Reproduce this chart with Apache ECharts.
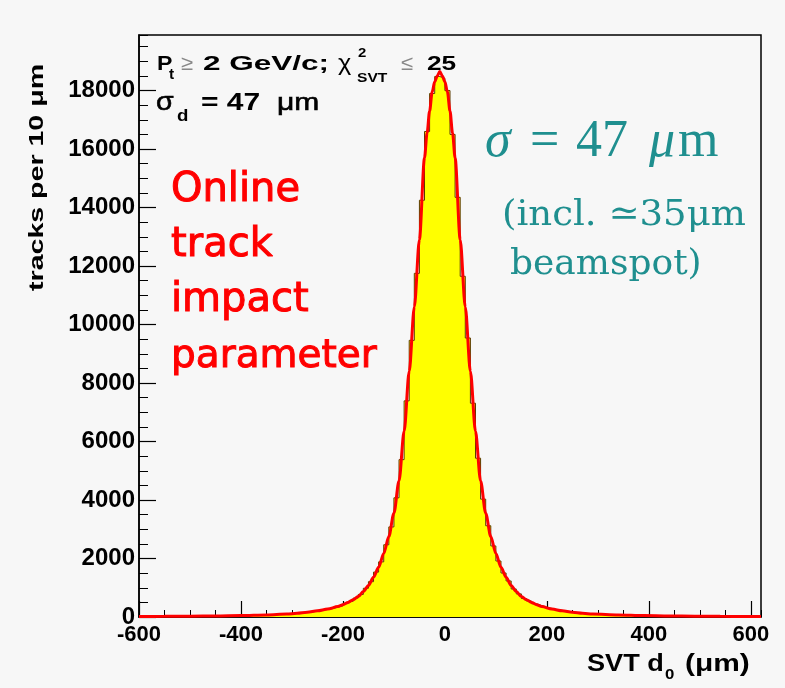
<!DOCTYPE html>
<html>
<head>
<meta charset="utf-8">
<script src="https://cdn.jsdelivr.net/npm/echarts@6/dist/echarts.min.js"></script>
<style>
html,body{margin:0;padding:0;background:#f7f7f7;}
#chart{width:785px;height:688px;}
</style>
</head>
<body>
<div id="chart"></div>
<script>
// ---- data ----
const binStart = -600;   // left edge of first bin (µm)
const binWidth = 10;     // µm per bin
// tracks per 10 µm, bins from -600 to 620 µm
const counts = [
  17,20,19,22,21,24,23,26,25,28,
  27,31,30,34,35,36,41,41,46,47,
  53,55,62,65,73,77,86,91,102,108,
  127,138,157,173,203,222,258,287,334,381,
  465,535,648,772,982,1208,1535,1885,2470,3080,
  4075,5380,7390,9460,11750,14250,16600,17900,18480,
  18420,18000,16500,14350,11650,9540,7310,5430,4030,3120,
  2430,1915,1505,1232,958,790,632,546,455,390,
  326,294,251,228,197,178,152,142,123,112,
  98,94,83,80,70,67,60,57,51,49,
  44,43,39,38,34,33,30,31,27,28,
  25,26,23,24,21,22,19,20,18,19,
  16,17,15
];
// fitted curve
const fitX = [-600,-550,-500,-450,-400,-350,-310,-290,-270,-250,-230,-210,-200,-190,-180,-170,-160,-150,-140,-130,-120,-110,-100,-90,-80,-70,-60,-50,-40,-35,-30,-25,-20,-15,-10,-5,0,5,10,15,20,30,40,50,60,70,80,90,100,110,120,130,140,150,160,170,180,190,210,230,250,270,290,340,390,440,490,540,590,620];
const fitY = [18,22,28,36,50,72,100,130,165,210,270,355,420,500,590,700,870,1080,1360,1700,2170,2750,3550,4650,6350,8400,10600,12900,15700,16550,17300,17950,18300,18500,18650,18500,18300,17950,17300,16550,15700,12900,10600,8400,6350,4650,3550,2750,2170,1700,1360,1080,870,700,590,500,420,355,270,210,165,130,100,68,48,36,28,22,18,16];
const xRange = [-600, 620];
const yRange = [0, 19900];

// ---- build series data ----
const histData = counts.map((v, i) => [binStart + i * binWidth, v]);
histData.push([binStart + counts.length * binWidth, counts[counts.length - 1]]);
const fitData = fitX.map((x, i) => [x, fitY[i]]);

const SANS = '"Liberation Sans", Arial, Helvetica, sans-serif';
const SERIF = '"Liberation Serif", "Times New Roman", serif';
const DSERIF = '"DejaVu Serif", serif';
const TEAL = '#1f8f8f';

function T(text, x, base, size, o) {
  o = o || {};
  const st = {
    text: text, fontSize: size, fontFamily: o.ff || SANS,
    fontWeight: o.fw || 'normal', fontStyle: o.fs || 'normal',
    fill: o.c || '#000', align: 'left', verticalAlign: 'middle',
    textAlign: 'left', textVerticalAlign: 'middle'
  };
  if (o.bw) { st.stroke = o.c || '#000'; st.lineWidth = o.bw; }
  return {
    type: 'text', x: x, y: base - 0.35 * size, z: 100,
    scaleX: o.sx || 1, scaleY: 1, rotation: o.rot || 0,
    style: st
  };
}

const RED = '#ff0000';
const DS = '"DejaVu Sans", sans-serif';
const graphics = [
  // top-left cut labels
  T('P', 157, 72, 21, {fw: 'bold', sx: 1.1}),
  T('t', 169, 80, 14, {fw: 'bold', sx: 1.1}),
  T('\u2265', 181, 72, 21, {c: '#888', sx: 1.05}),
  T('2 GeV/c;', 203, 72, 21, {fw: 'bold', sx: 1.5}),
  T('\u03c7', 338, 72, 22, {sx: 1.15}),
  T('2', 358, 58, 13, {fw: 'bold', sx: 1.15}),
  T('SVT', 357, 83, 13, {fw: 'bold', sx: 1.2}),
  T('\u2264', 401, 72, 21, {c: '#888', sx: 1.05}),
  T('25', 427, 72, 21, {fw: 'bold', sx: 1.25}),
  T('\u03c3', 156, 112, 26, {sx: 1.1, bw: 0.6}),
  T('d', 177, 122, 17, {fw: 'bold', sx: 1.1}),
  T('= 47', 201, 112, 24, {fw: 'bold', sx: 1.25}),
  T('\u03bcm', 277, 112, 24, {sx: 1.25, bw: 0.6}),
  // red annotation
  T('Online', 171, 205, 40, {ff: DS, c: RED, bw: 1}),
  T('track', 171, 260, 40, {ff: DS, c: RED, bw: 1}),
  T('impact', 171, 315, 40, {ff: DS, c: RED, bw: 1}),
  T('parameter', 171, 371, 39, {ff: DS, c: RED, bw: 1}),
  // teal annotation
  T('\u03c3', 485, 161, 52, {ff: SERIF, fs: 'italic', c: TEAL}),
  T('=', 530, 161, 52, {ff: SERIF, c: TEAL}),
  T('47', 576, 161, 52, {ff: SERIF, c: TEAL}),
  T('\u03bc', 649, 161, 52, {ff: SERIF, fs: 'italic', c: TEAL}),
  T('m', 678, 161, 52, {ff: SERIF, c: TEAL}),
  T('(incl. \u224335\u03bcm', 502, 228, 36, {ff: DSERIF, c: TEAL, sx: 1.03}),
  T('beamspot)', 510, 277, 36, {ff: DSERIF, c: TEAL}),
  // axis titles
  T('SVT d', 587, 673, 23, {fw: 'bold', sx: 1.18}),
  T('0', 665, 680, 14, {fw: 'bold', sx: 1.2}),
  T('(\u03bcm)', 685, 673, 23, {fw: 'bold', sx: 1.3}),
  {
    type: 'text', x: 37, y: 291, rotation: Math.PI / 2, scaleX: 1.36, z: 100,
    style: {text: 'tracks per 10 \u03bcm', fontSize: 21, fontWeight: 'bold', fontFamily: SANS,
      fill: '#000', align: 'left', verticalAlign: 'middle', textAlign: 'left', textVerticalAlign: 'middle'}
  }
];

const chart = echarts.init(document.getElementById('chart'), null, {renderer: 'canvas'});
chart.setOption({
  animation: false,
  backgroundColor: '#f7f7f7',
  grid: {left: 139, right: 24, top: 35, bottom: 71, show: true, borderColor: '#000', borderWidth: 1.5,
         backgroundColor: 'transparent', containLabel: false},
  xAxis: [
    {type: 'value', min: xRange[0], max: xRange[1], interval: 200, position: 'bottom',
     axisLine: {show: true, onZero: false, lineStyle: {color: '#000', width: 1.5}},
     axisTick: {show: true, inside: true, length: 16, lineStyle: {color: '#000', width: 1.2}},
     axisLabel: {show: true, showMaxLabel: false, showMinLabel: true, hideOverlap: false,
       formatter: v => String(v),
       fontSize: 22, fontWeight: 'bold', fontFamily: SANS, color: '#000', margin: 7},
     splitLine: {show: false}},
    {type: 'value', min: xRange[0], max: xRange[1], interval: 50, position: 'bottom',
     axisLine: {show: false, onZero: false},
     axisTick: {show: true, inside: true, length: 7, lineStyle: {color: '#000', width: 1}},
     axisLabel: {show: false}, splitLine: {show: false}}
  ],
  yAxis: [
    {type: 'value', min: yRange[0], max: yRange[1], interval: 2000, position: 'left',
     axisLine: {show: true, onZero: false, lineStyle: {color: '#000', width: 1.5}},
     axisTick: {show: true, inside: true, length: 17, lineStyle: {color: '#000', width: 1.2}},
     axisLabel: {show: true, showMaxLabel: false, hideOverlap: false,
       formatter: v => String(v),
       fontSize: 24, fontWeight: 'bold', fontFamily: SANS, color: '#000', margin: 4},
     splitLine: {show: false}},
    {type: 'value', min: yRange[0], max: yRange[1], interval: 500, position: 'left',
     axisLine: {show: false, onZero: false},
     axisTick: {show: true, inside: true, length: 9, lineStyle: {color: '#000', width: 1}},
     axisLabel: {show: false}, splitLine: {show: false}}
  ],
  series: [
    {type: 'line', name: 'hist', xAxisIndex: 0, yAxisIndex: 0, data: histData, step: 'end',
     symbol: 'none', z: 2,
     lineStyle: {color: '#5a3a00', width: 1},
     areaStyle: {color: '#ffff00', opacity: 1}},
    {type: 'line', name: 'fit', xAxisIndex: 0, yAxisIndex: 0, data: fitData, smooth: 0.3,
     smoothMonotone: 'x', symbol: 'none', z: 3,
     lineStyle: {color: '#ff0000', width: 3}}
  ],
  graphic: graphics
});
</script>
</body>
</html>
